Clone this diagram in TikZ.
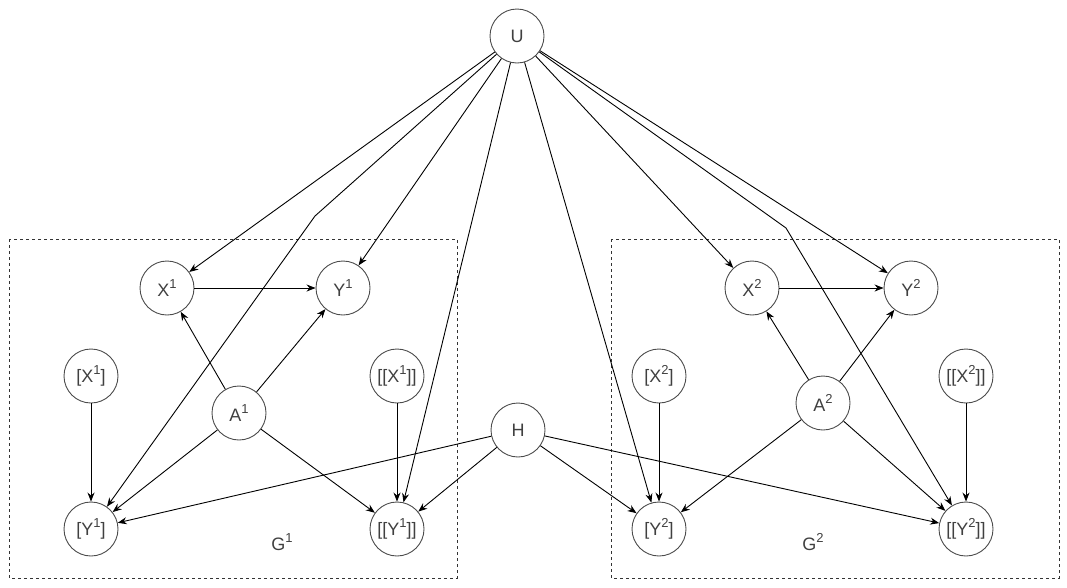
\documentclass[tikz,border=0pt]{standalone}
\usepackage{fontspec}
\setmainfont{Liberation Sans}
\usetikzlibrary{arrows.meta}
\newcommand{\sidx}[1]{\raisebox{0.42em}{\fontsize{13}{13}\selectfont#1}}
\begin{document}
\begin{tikzpicture}[x=1pt,y=-1pt,->,>={Stealth[length=9pt,width=7pt]},line width=0.9pt]
		\tikzstyle{unit}=[draw=black!70,shape=circle,minimum size=54pt,inner sep=0pt,text=black!75,font=\fontsize{18}{21}\selectfont]
		\tikzstyle{frame}=[draw=black!80,line width=0.8pt,dash pattern=on 3pt off 3pt,-]
		\useasboundingbox (0,0) rectangle (1067,587);

		\draw[frame] (9,239) rectangle (457,578);
		\draw[frame] (611,239) rectangle (1059,578);

		\node[unit](u) at (517,36){U};
		\node[unit](h) at (518,430){H};

		\node[unit](x1) at (167,288){X\sidx{1}};
		\node[unit](y1) at (343,288){Y\sidx{1}};
		\node[unit](bx1) at (91,376){[X\sidx{1}]};
		\node[unit](bbx1) at (397,376){[[X\sidx{1}]]};
		\node[unit](a1) at (239,413){A\sidx{1}};
		\node[unit](by1) at (91,529){[Y\sidx{1}]};
		\node[unit](bby1) at (397,529){[[Y\sidx{1}]]};
		\node[text=black!75,font=\fontsize{18}{21}\selectfont](g1) at (282,542){G\sidx{1}};

		\node[unit](x2) at (752,288){X\sidx{2}};
		\node[unit](y2) at (911,288){Y\sidx{2}};
		\node[unit](bx2) at (659,376){[X\sidx{2}]};
		\node[unit](bbx2) at (966,376){[[X\sidx{2}]]};
		\node[unit](a2) at (823,403){A\sidx{2}};
		\node[unit](by2) at (659,529){[Y\sidx{2}]};
		\node[unit](bby2) at (966,529){[[Y\sidx{2}]]};
		\node[text=black!75,font=\fontsize{18}{21}\selectfont](g2) at (813,542){G\sidx{2}};

		\coordinate(kl) at (315,216);
		\coordinate(kr) at (786,228);

		% from U
		\draw (u) -- (x1);
		\draw (u) -- (kl) -- (by1);
		\draw (u) -- (y1);
		\draw (u) -- (bby1);
		\draw (u) -- (by2);
		\draw (u) -- (x2);
		\draw (u) -- (y2);
		\draw (u) -- (kr) -- (bby2);

		% G1
		\draw (x1) -- (y1);
		\draw (a1) -- (x1);
		\draw (a1) -- (y1);
		\draw (a1) -- (by1);
		\draw (a1) -- (bby1);
		\draw (bx1) -- (by1);
		\draw (bbx1) -- (bby1);

		% G2
		\draw (x2) -- (y2);
		\draw (a2) -- (x2);
		\draw (a2) -- (y2);
		\draw (a2) -- (by2);
		\draw (a2) -- (bby2);
		\draw (bx2) -- (by2);
		\draw (bbx2) -- (bby2);

		% from H
		\draw (h) -- (by1);
		\draw (h) -- (bby1);
		\draw (h) -- (by2);
		\draw (h) -- (bby2);
	\end{tikzpicture}
\end{document}
